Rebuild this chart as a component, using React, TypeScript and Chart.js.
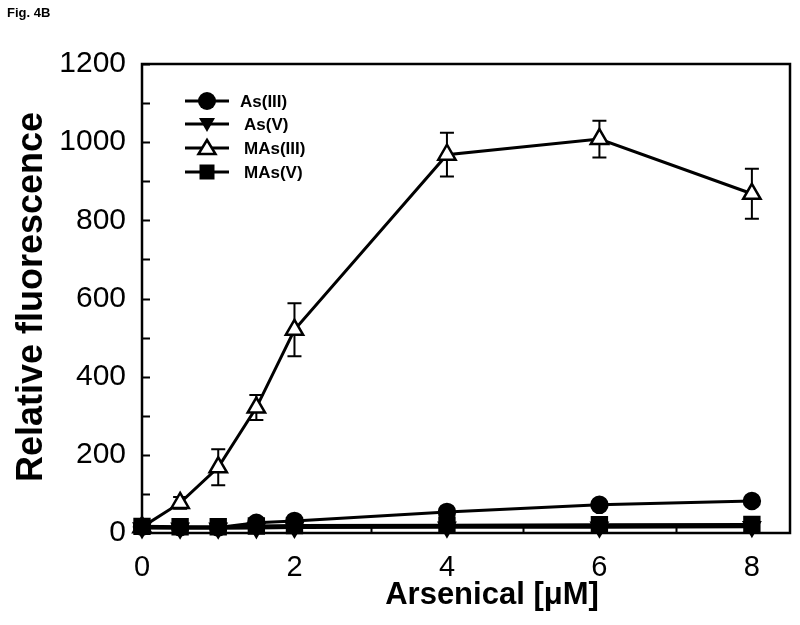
import React, { useEffect, useRef } from 'react';
import { Chart, registerables } from 'chart.js';

Chart.register(...registerables);

// ---- Data ----
const concentrations = [0, 0.5, 1, 1.5, 2, 4, 6, 8];
const asIII = [16, 15, 14, 26, 31, 54, 72, 82];
const asIIIErr = [3, 3, 3, 4, 4, 5, 6, 9];
const asV = [13, 12, 12, 13, 14, 15, 15, 16];
const asVErr = [2, 2, 2, 2, 2, 2, 2, 3];
const masIII = [15, 77, 168, 321, 520, 968, 1008, 868];
const masIIIErr = [5, 15, 46, 32, 68, 56, 47, 64];
const masV = [17, 16, 16, 18, 19, 20, 21, 22];
const masVErr = [3, 3, 3, 3, 3, 3, 3, 4];

const seriesNames = ['As(III)', 'As(V)', 'MAs(III)', 'MAs(V)'];

const xTickValues = [0, 2, 4, 6, 8];
const xMinorTicks = [1, 3, 5, 7];
const yTickValues = [0, 200, 400, 600, 800, 1000, 1200];
const yMinorTicks = [100, 300, 500, 700, 900, 1100];

const xTitle = 'Arsenical [μM]';
const yTitle = 'Relative fluorescence';
const figLabel = 'Fig. 4B';

const FONT = "'Liberation Sans', Arial, sans-serif";

type Marker = 'circle' | 'tridown' | 'triup' | 'square';

function drawMarker(ctx: CanvasRenderingContext2D, kind: Marker, x: number, y: number) {
  ctx.save();
  ctx.lineWidth = 2.5;
  ctx.strokeStyle = '#000';
  ctx.fillStyle = '#000';
  ctx.beginPath();
  if (kind === 'circle') {
    ctx.arc(x, y, 9, 0, Math.PI * 2);
    ctx.fill();
  } else if (kind === 'square') {
    ctx.rect(x - 7.5, y - 7.5, 15, 15);
    ctx.fill();
  } else if (kind === 'tridown') {
    ctx.moveTo(x - 8, y - 6);
    ctx.lineTo(x + 8, y - 6);
    ctx.lineTo(x, y + 8);
    ctx.closePath();
    ctx.fill();
  } else {
    ctx.moveTo(x, y - 8);
    ctx.lineTo(x + 8.5, y + 6);
    ctx.lineTo(x - 8.5, y + 6);
    ctx.closePath();
    ctx.fillStyle = '#fff';
    ctx.fill();
    ctx.stroke();
  }
  ctx.restore();
}

const errorSets = [asIIIErr, asVErr, masIIIErr, masVErr];

const AREA = { left: 142, right: 790, top: 64, bottom: 533 };

const customPlugin = {
  id: 'customDecor',
  afterLayout(chart: any) {
    const ca = chart.chartArea;
    ca.left = AREA.left;
    ca.right = AREA.right;
    ca.top = AREA.top;
    ca.bottom = AREA.bottom;
    ca.width = AREA.right - AREA.left;
    ca.height = AREA.bottom - AREA.top;
    const xs = chart.scales.x;
    xs.left = AREA.left;
    xs.right = AREA.right;
    xs.width = AREA.right - AREA.left;
    xs.top = AREA.bottom;
    xs.bottom = 625;
    xs.height = 625 - AREA.bottom;
    xs.configure();
    const ys = chart.scales.y;
    ys.left = 0;
    ys.right = AREA.left;
    ys.width = AREA.left;
    ys.top = AREA.top;
    ys.bottom = AREA.bottom;
    ys.height = AREA.bottom - AREA.top;
    ys.configure();
  },
  beforeDatasetsDraw(chart: any) {
    const ctx: CanvasRenderingContext2D = chart.ctx;
    const { left, right, top, bottom } = chart.chartArea;
    const xs = chart.scales.x;
    const ys = chart.scales.y;
    ctx.save();
    // frame
    ctx.strokeStyle = '#000';
    ctx.lineWidth = 2.5;
    ctx.strokeRect(left, top, right - left, bottom - top);
    // inward ticks
    ctx.lineWidth = 2;
    ctx.beginPath();
    [...yTickValues, ...yMinorTicks].forEach((v) => {
      const py = Math.round(ys.getPixelForValue(v)) + 0.5;
      ctx.moveTo(left, py);
      ctx.lineTo(left + 8, py);
    });
    xTickValues.forEach((v) => {
      const px = Math.round(xs.getPixelForValue(v)) + 0.5;
      ctx.moveTo(px, bottom);
      ctx.lineTo(px, bottom - 8);
    });
    xMinorTicks.forEach((v) => {
      const px = Math.round(xs.getPixelForValue(v)) + 0.5;
      ctx.moveTo(px, bottom);
      ctx.lineTo(px, bottom - 6);
    });
    ctx.stroke();
    // error bars
    ctx.lineWidth = 2;
    ctx.beginPath();
    chart.data.datasets.forEach((ds: any, i: number) => {
      const errs = errorSets[i];
      ds.data.forEach((pt: any, j: number) => {
        const px = xs.getPixelForValue(pt.x);
        const y1 = ys.getPixelForValue(pt.y + errs[j]);
        const y2 = ys.getPixelForValue(pt.y - errs[j]);
        ctx.moveTo(px, y1);
        ctx.lineTo(px, y2);
        ctx.moveTo(px - 7, y1);
        ctx.lineTo(px + 7, y1);
        ctx.moveTo(px - 7, y2);
        ctx.lineTo(px + 7, y2);
      });
    });
    ctx.stroke();
    ctx.restore();
  },
  afterDraw(chart: any) {
    const ctx: CanvasRenderingContext2D = chart.ctx;
    ctx.save();
    ctx.fillStyle = '#000';
    // fig label
    ctx.font = `bold 13px ${FONT}`;
    ctx.textAlign = 'left';
    ctx.textBaseline = 'alphabetic';
    ctx.fillText(figLabel, 7, 17);
    // x title
    ctx.font = `bold 31px ${FONT}`;
    ctx.textAlign = 'center';
    ctx.fillText(xTitle, 492, 604);
    // y title
    ctx.save();
    ctx.translate(42, 297);
    ctx.rotate(-Math.PI / 2);
    ctx.font = `bold 36px ${FONT}`;
    ctx.textAlign = 'center';
    ctx.fillText(yTitle, 0, 0);
    ctx.restore();
    // legend
    const markers: Marker[] = ['circle', 'tridown', 'triup', 'square'];
    const rowsY = [101, 124, 148, 172];
    const labelX = [240, 244, 244, 244];
    ctx.font = `bold 17px ${FONT}`;
    ctx.textAlign = 'left';
    ctx.textBaseline = 'middle';
    seriesNames.forEach((name, i) => {
      const y = rowsY[i];
      ctx.strokeStyle = '#000';
      ctx.lineWidth = 3;
      ctx.beginPath();
      ctx.moveTo(185, y);
      ctx.lineTo(229, y);
      ctx.stroke();
      drawMarker(ctx, markers[i], 207, y);
      ctx.fillStyle = '#000';
      ctx.fillText(name, labelX[i], y + 1);
    });
    ctx.restore();
  },
};

function toPoints(vals: number[]) {
  return concentrations.map((x, i) => ({ x, y: vals[i] }));
}

export default function App() {
  const ref = useRef<HTMLCanvasElement>(null);
  useEffect(() => {
    document.body.style.margin = '0';
    const common = {
      showLine: true,
      borderColor: '#000',
      borderWidth: 3,
      tension: 0,
      clip: false as any,
      pointBorderColor: '#000',
      pointBorderWidth: 2.5,
    };
    const chart = new Chart(ref.current!, {
      type: 'scatter',
      data: {
        datasets: [
          { ...common, order: 0, label: seriesNames[0], data: toPoints(asIII), pointStyle: 'circle', pointRadius: 8, pointBackgroundColor: '#000' },
          { ...common, order: 3, label: seriesNames[1], data: toPoints(asV), pointStyle: 'triangle', rotation: 180, pointRadius: 9, pointBackgroundColor: '#000' },
          { ...common, order: 1, label: seriesNames[2], data: toPoints(masIII), pointStyle: 'triangle', pointRadius: 10, pointBackgroundColor: '#fff' },
          { ...common, order: 2, label: seriesNames[3], data: toPoints(masV), pointStyle: 'rect', pointRadius: 10.5, pointBackgroundColor: '#000' },
        ],
      } as any,
      options: {
        animation: false,
        responsive: false,
        devicePixelRatio: 1,
        layout: { padding: { top: 64, right: 10, left: 0, bottom: 0 } },
        plugins: { legend: { display: false }, tooltip: { enabled: false } },
        scales: {
          x: {
            type: 'linear',
            min: 0,
            max: 8.5,
            afterBuildTicks: (s: any) => {
              s.ticks = xTickValues.map((v) => ({ value: v }));
            },
            afterFit: (s: any) => {
              s.height = 92;
            },
            grid: { display: false, drawTicks: false },
            border: { display: false },
            ticks: {
              color: '#000',
              font: { family: FONT, size: 29 },
              padding: 18,
              maxRotation: 0,
              autoSkip: false,
              callback: (v: any) => String(v),
            },
          },
          y: {
            type: 'linear',
            min: 0,
            max: 1200,
            afterBuildTicks: (s: any) => {
              s.ticks = yTickValues.map((v) => ({ value: v }));
            },
            afterFit: (s: any) => {
              s.width = 142;
            },
            grid: { display: false, drawTicks: false },
            border: { display: false },
            ticks: {
              color: '#000',
              font: { family: FONT, size: 30 },
              padding: 16,
              autoSkip: false,
              callback: (v: any) => String(v),
            },
          },
        },
      } as any,
      plugins: [customPlugin],
    });
    return () => chart.destroy();
  }, []);
  return (
    <div style={{ width: 800, height: 625 }}>
      <canvas ref={ref} width={800} height={625} style={{ display: 'block' }} />
    </div>
  );
}
